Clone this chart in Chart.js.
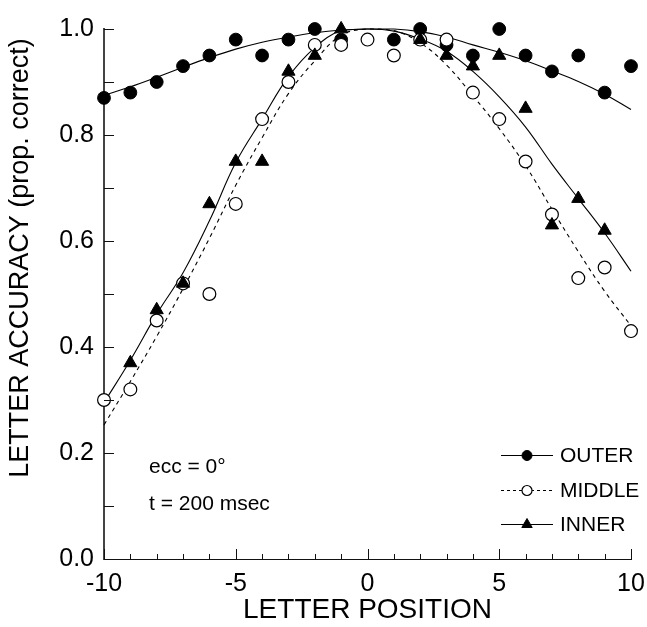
<!DOCTYPE html>
<html>
<head>
<meta charset="utf-8">
<script src="https://cdn.jsdelivr.net/npm/chart.js"></script>
<style>
  body { margin: 0; background: #fff; }
  canvas { display: block; }
</style>
</head>
<body>
<canvas id="myChart" width="647" height="627"></canvas>
<script>
// letter positions (x) and proportion correct for each flank condition
const positions = [-10, -9, -8, -7, -6, -5, -4, -3, -2, -1, 0, 1, 2, 3, 4, 5, 6, 7, 8, 9, 10];

const outer  = [0.87, 0.88, 0.90, 0.93, 0.95, 0.98, 0.95, 0.98, 1.00, 0.98, null, 0.98, 1.00, 0.97, 0.95, 1.00, 0.95, 0.92, 0.95, 0.88, 0.93];
const middle = [0.30, 0.32, 0.45, 0.52, 0.50, 0.67, 0.83, 0.90, 0.97, 0.97, 0.98, 0.95, 0.98, 0.98, 0.88, 0.83, 0.75, 0.65, 0.53, 0.55, 0.43];
const inner  = [null, 0.37, 0.47, 0.52, 0.67, 0.75, 0.75, 0.92, 0.95, 1.00, null, null, 0.98, 0.95, 0.93, 0.95, 0.85, 0.63, 0.68, 0.62, null];

// fitted curves, sampled at the same positions
const outerFit  = [0.875, 0.891, 0.909, 0.928, 0.946, 0.962, 0.975, 0.985, 0.993, 0.998, 1.000, 1.000, 0.995, 0.985, 0.970, 0.956, 0.940, 0.921, 0.901, 0.877, 0.848];
const middleFit = [0.253, 0.335, 0.420, 0.510, 0.605, 0.705, 0.795, 0.878, 0.940, 0.988, 1.000, 0.997, 0.974, 0.932, 0.874, 0.812, 0.742, 0.660, 0.580, 0.505, 0.440];
const innerFit  = [0.295, 0.375, 0.462, 0.540, 0.638, 0.748, 0.830, 0.910, 0.965, 0.997, 1.000, 0.996, 0.981, 0.958, 0.920, 0.872, 0.815, 0.745, 0.680, 0.615, 0.543];

const seriesNames = ['OUTER', 'MIDDLE', 'INNER'];
const xTicks = [-10, -5, 0, 5, 10];
const yTicks = [0.0, 0.2, 0.4, 0.6, 0.8, 1.0];
const notes = ['ecc = 0°', 't = 200 msec'];
const xTitle = 'LETTER POSITION';
const yTitle = 'LETTER ACCURACY (prop. correct)';

const FONT = '"Liberation Sans", Arial, Helvetica, sans-serif';

const toPoints = ys => positions.map((x, i) => ({ x: x, y: ys[i] }));

const curve = (ys, dash) => ({
    type: 'line',
    data: toPoints(ys),
    borderColor: '#000',
    borderWidth: 1.1,
    borderDash: dash,
    pointRadius: 0,
    fill: false,
    tension: 0.4,
    clip: false,
    order: 10
});

const outerSet = {
    label: seriesNames[0], data: toPoints(outer),
    pointStyle: 'circle', pointRadius: 6.4, pointBackgroundColor: '#000',
    pointBorderColor: '#000', pointBorderWidth: 1, showLine: false, clip: false, order: 3,
    lineDash: [], legendRadius: 5
};
const middleSet = {
    label: seriesNames[1], data: toPoints(middle),
    pointStyle: 'circle', pointRadius: 6.4, pointBackgroundColor: '#fff',
    pointBorderColor: '#000', pointBorderWidth: 1.2, showLine: false, clip: false, order: 2,
    lineDash: [3, 3], legendRadius: 5
};
const innerSet = {
    label: seriesNames[2], data: toPoints(inner),
    pointStyle: 'triangle', pointRadius: 7.6, pointBackgroundColor: '#000',
    pointBorderColor: '#000', pointBorderWidth: 1, showLine: false, clip: false, order: 1,
    lineDash: [], legendRadius: 6
};

// inward tick marks, notes, rotated y title and the line+marker legend
const decor = {
    id: 'decor',
    afterDraw(chart) {
        const { ctx, scales: { x, y } } = chart;
        ctx.save();
        ctx.strokeStyle = '#111';
        ctx.lineWidth = 1;
        ctx.beginPath();
        for (let v = 0; v <= 10; v++) {
            const py = Math.round(y.getPixelForValue(v / 10)) + 0.5;
            ctx.moveTo(x.left, py);
            ctx.lineTo(x.left + 10, py);
        }
        positions.forEach(v => {
            const px = Math.round(x.getPixelForValue(v)) + 0.5;
            const len = v % 5 === 0 ? 10 : 5;
            ctx.moveTo(px, y.bottom);
            ctx.lineTo(px, y.bottom - len);
        });
        ctx.stroke();

        ctx.fillStyle = '#000';
        ctx.font = '21px ' + FONT;
        ctx.textAlign = 'left';
        ctx.textBaseline = 'middle';
        ctx.fillText(notes[0], 149, 467);
        ctx.fillText(notes[1], 149, 504);

        ctx.save();
        ctx.translate(21, 258);
        ctx.rotate(-Math.PI / 2);
        ctx.textAlign = 'center';
        ctx.font = '27px ' + FONT;
        ctx.fillText(yTitle, 0, 0);
        ctx.restore();

        const rows = [455, 490, 524];
        [outerSet, middleSet, innerSet].forEach((ds, i) => {
            const ly = rows[i];
            ctx.strokeStyle = '#000';
            ctx.lineWidth = 1;
            ctx.setLineDash(ds.lineDash);
            ctx.beginPath();
            ctx.moveTo(501, ly + 0.5);
            ctx.lineTo(553, ly + 0.5);
            ctx.stroke();
            ctx.setLineDash([]);
            ctx.fillStyle = ds.pointBackgroundColor;
            ctx.strokeStyle = ds.pointBorderColor;
            ctx.lineWidth = ds.pointBorderWidth;
            Chart.helpers.drawPoint(ctx, {
                pointStyle: ds.pointStyle, radius: ds.legendRadius, rotation: 0, borderWidth: ds.pointBorderWidth
            }, 527, ly + 0.5);
            ctx.fillStyle = '#000';
            ctx.font = '21px ' + FONT;
            ctx.fillText(ds.label, 560, ly + 1);
        });
        ctx.restore();
    }
};

const ctx = document.getElementById('myChart');

new Chart(ctx, {
    type: 'scatter',
    data: {
        datasets: [
            innerSet,
            middleSet,
            outerSet,
            curve(outerFit, []),
            curve(middleFit, [4, 4]),
            curve(innerFit, [])
        ]
    },
    options: {
        responsive: false,
        animation: false,
        events: [],
        layout: { padding: { top: 29, right: 16, left: 0, bottom: 0 } },
        plugins: {
            legend: { display: false },
            tooltip: { enabled: false }
        },
        scales: {
            x: {
                type: 'linear',
                min: -10,
                max: 10,
                afterFit: s => { s.height = 68; s.paddingLeft = 0; s.paddingRight = 0; },
                afterBuildTicks: s => { s.ticks = xTicks.map(v => ({ value: v })); },
                grid: { display: false, drawTicks: false },
                border: { display: true, color: '#111', width: 1 },
                ticks: {
                    padding: 10,
                    color: '#000',
                    font: { family: FONT, size: 25 },
                    maxRotation: 0,
                    callback: v => String(v)
                },
                title: {
                    display: true,
                    text: xTitle,
                    color: '#000',
                    font: { family: FONT, size: 28 },
                    padding: { top: 0, bottom: 0 }
                }
            },
            y: {
                type: 'linear',
                min: 0,
                max: 1,
                afterFit: s => { s.width = 104; s.paddingTop = 0; s.paddingBottom = 0; },
                afterBuildTicks: s => { s.ticks = yTicks.map(v => ({ value: v })); },
                grid: { display: false, drawTicks: false },
                border: { display: true, color: '#444', width: 2 },
                ticks: {
                    padding: 10,
                    color: '#000',
                    font: { family: FONT, size: 25 },
                    callback: v => v.toFixed(1)
                }
            }
        }
    },
    plugins: [decor]
});
</script>
</body>
</html>
